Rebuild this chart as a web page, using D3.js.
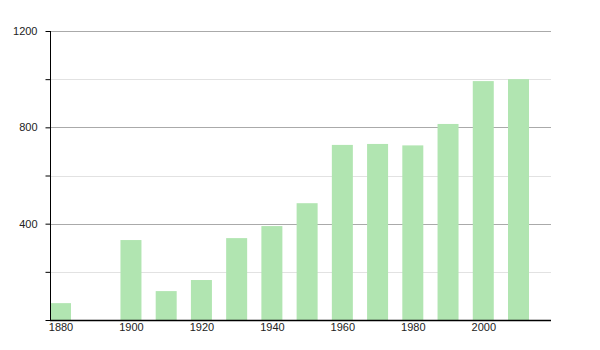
<!DOCTYPE html>
<html><head><meta charset="utf-8">
<script src="https://cdn.jsdelivr.net/npm/d3@7"></script>
<style>body{margin:0;background:#fff}svg{display:block}text{font-family:"Liberation Sans",Arial,sans-serif;font-size:11px;fill:#222}</style>
</head><body>
<svg id="c" width="600" height="350"></svg>
<script>
const years = [1880,1900,1910,1920,1930,1940,1950,1960,1970,1980,1990,2000,2010];
const values = [70,332,120,166,340,390,485,727,731,725,814,992,1000];
const yTicks = [400,800,1200];
const yMinor = [200,600,1000];
const xTicks = [1880,1900,1920,1940,1960,1980,2000];

(function(){
const svg = d3.select("#c");
const mLeft = 50, mRight = 551, mTop = 31, mBottom = 320;
const y = d3.scaleLinear().domain([0,1200]).range([mBottom, mTop]);
const x = d3.scaleLinear().domain([1880,2010]).range([60.5,518.5]);
const bw = 21;

svg.append("g").selectAll("line").data(yMinor).join("line")
  .attr("x1",mLeft).attr("x2",mRight).attr("y1",d=>Math.round(y(d))+0.5).attr("y2",d=>Math.round(y(d))+0.5)
  .attr("stroke","#e2e2e2").attr("stroke-width",1);
svg.append("g").selectAll("line").data(yTicks).join("line")
  .attr("x1",mLeft).attr("x2",mRight).attr("y1",d=>Math.round(y(d))+0.5).attr("y2",d=>Math.round(y(d))+0.5)
  .attr("stroke","#aaaaaa").attr("stroke-width",1);

svg.append("g").selectAll("rect").data(years).join("rect")
  .attr("x",(d)=>x(d)-bw/2).attr("width",bw)
  .attr("y",(d,i)=>y(values[i])).attr("height",(d,i)=>mBottom-y(values[i]))
  .attr("fill","#b1e5b1");

const yAxis = d3.axisLeft(y).tickValues([0,200,400,600,800,1000,1200])
  .tickSize(5).tickFormat(d=>yTicks.includes(d)?d:"");
const ga = svg.append("g").attr("transform",`translate(${mLeft+0.5},0)`).call(yAxis);
ga.select(".domain").attr("stroke","#000").attr("d",`M0,${mTop}V${mBottom}`);
ga.selectAll(".tick line").attr("stroke","#000");
ga.selectAll(".tick text").attr("x",-13).attr("fill","#222");
ga.attr("font-size",null).attr("font-family",null);

const xAxis = d3.axisBottom(x).tickValues(xTicks).tickSize(0).tickFormat(d3.format("d"));
const gx = svg.append("g").attr("transform",`translate(0,${mBottom+0.5})`).call(xAxis);
gx.select(".domain").attr("stroke","#000").attr("stroke-width",1.3).attr("d",`M${mLeft},0H${mRight}`);
gx.selectAll(".tick text").attr("y",3).attr("fill","#222");
gx.attr("font-size",null).attr("font-family",null);
})();
</script>
</body></html>
